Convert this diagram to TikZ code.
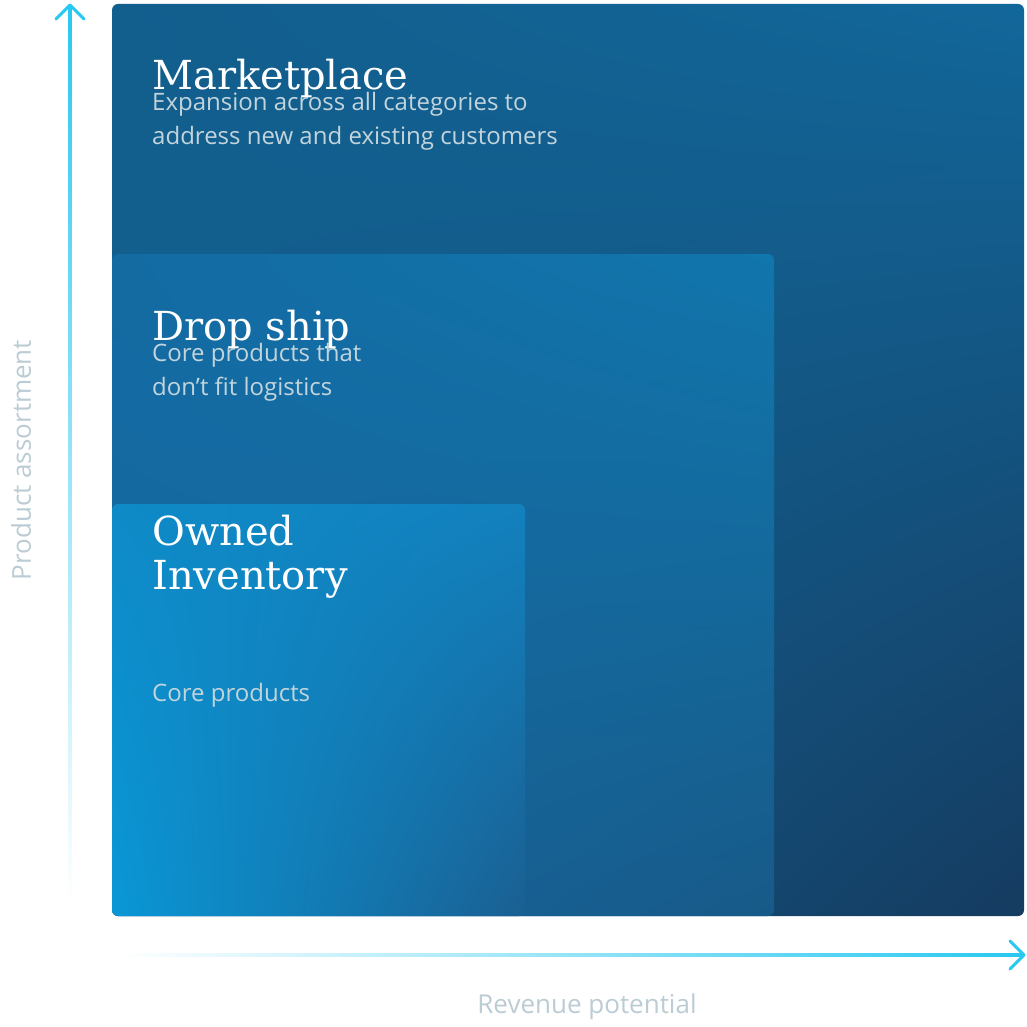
\documentclass[tikz,border=0pt]{standalone}
\usepackage{fontspec}
\usetikzlibrary{shadings}
\setmainfont{Open Sans}
\newfontfamily\slab{DejaVu Serif}
\definecolor{ax}{HTML}{29C8F0}
\definecolor{m1}{HTML}{125E8D}\definecolor{m2}{HTML}{153B60}\definecolor{m3}{HTML}{12679A}
\definecolor{d1}{HTML}{136BA2}\definecolor{d2}{HTML}{175A88}\definecolor{d3}{HTML}{1176AD}\definecolor{d4}{HTML}{1766A0}
\definecolor{o1}{HTML}{0E8AC7}\definecolor{o2}{HTML}{1A5F92}\definecolor{o3}{HTML}{1281BE}\definecolor{o4}{HTML}{0A97D6}
\begin{document}
\begin{tikzpicture}[x=1pt,y=-1pt,
  title/.style={anchor=base west,font=\slab\fontsize{40}{44}\selectfont,text=white,align=left,inner sep=0pt},
  body/.style={anchor=base west,font=\fontsize{24}{34}\selectfont,text=white!82!cyan!70!gray,align=left,inner sep=0pt},
  axlab/.style={font=\fontsize{26}{30}\selectfont,text=cyan!25!gray!50!white,inner sep=0pt}]
\useasboundingbox[fill=white] (0,0) rectangle (1027,1027);
% boxes
\shade[rounded corners=6pt,upper left=m1,lower right=m2,upper right=m3,lower left=m1] (112,4) rectangle (1024,916);
\shade[rounded corners=6pt,upper left=d1,upper right=d3,lower right=d2,lower left=d4] (112,254) rectangle (774,916);
\shade[rounded corners=6pt,upper left=o1,upper right=o3,lower right=o2,lower left=o4] (112,504) rectangle (525,916);
% texts
\node[title] (t1) at (152,90) {Marketplace};
\node[body] (b1) at (152,145) {Expansion across all categories to\\address new and existing customers};
\node[title] (t2) at (152,340) {Drop ship};
\node[body] (b2) at (152,395) {Core products that\\don’t fit logistics};
\node[title] (t3) at (152,589) {Owned\\Inventory};
\node[body] (b3) at (152,701) {Core products};
% axes
\shade[top color=ax,bottom color=white] (68.5,6) rectangle (71.5,905);
\draw[ax,line width=3pt,line cap=round,line join=round] (56,19) -- (70,5) -- (84,19);
\shade[left color=white,right color=ax] (120,953.5) rectangle (1022,956.5);
\draw[ax,line width=3pt,line cap=round,line join=round] (1010,941) -- (1024,955) -- (1010,969);
\node[axlab,rotate=90] (ya) at (21,460) {Product assortment};
\node[axlab] (xa) at (587,1007) {Revenue potential};
\end{tikzpicture}
\end{document}
